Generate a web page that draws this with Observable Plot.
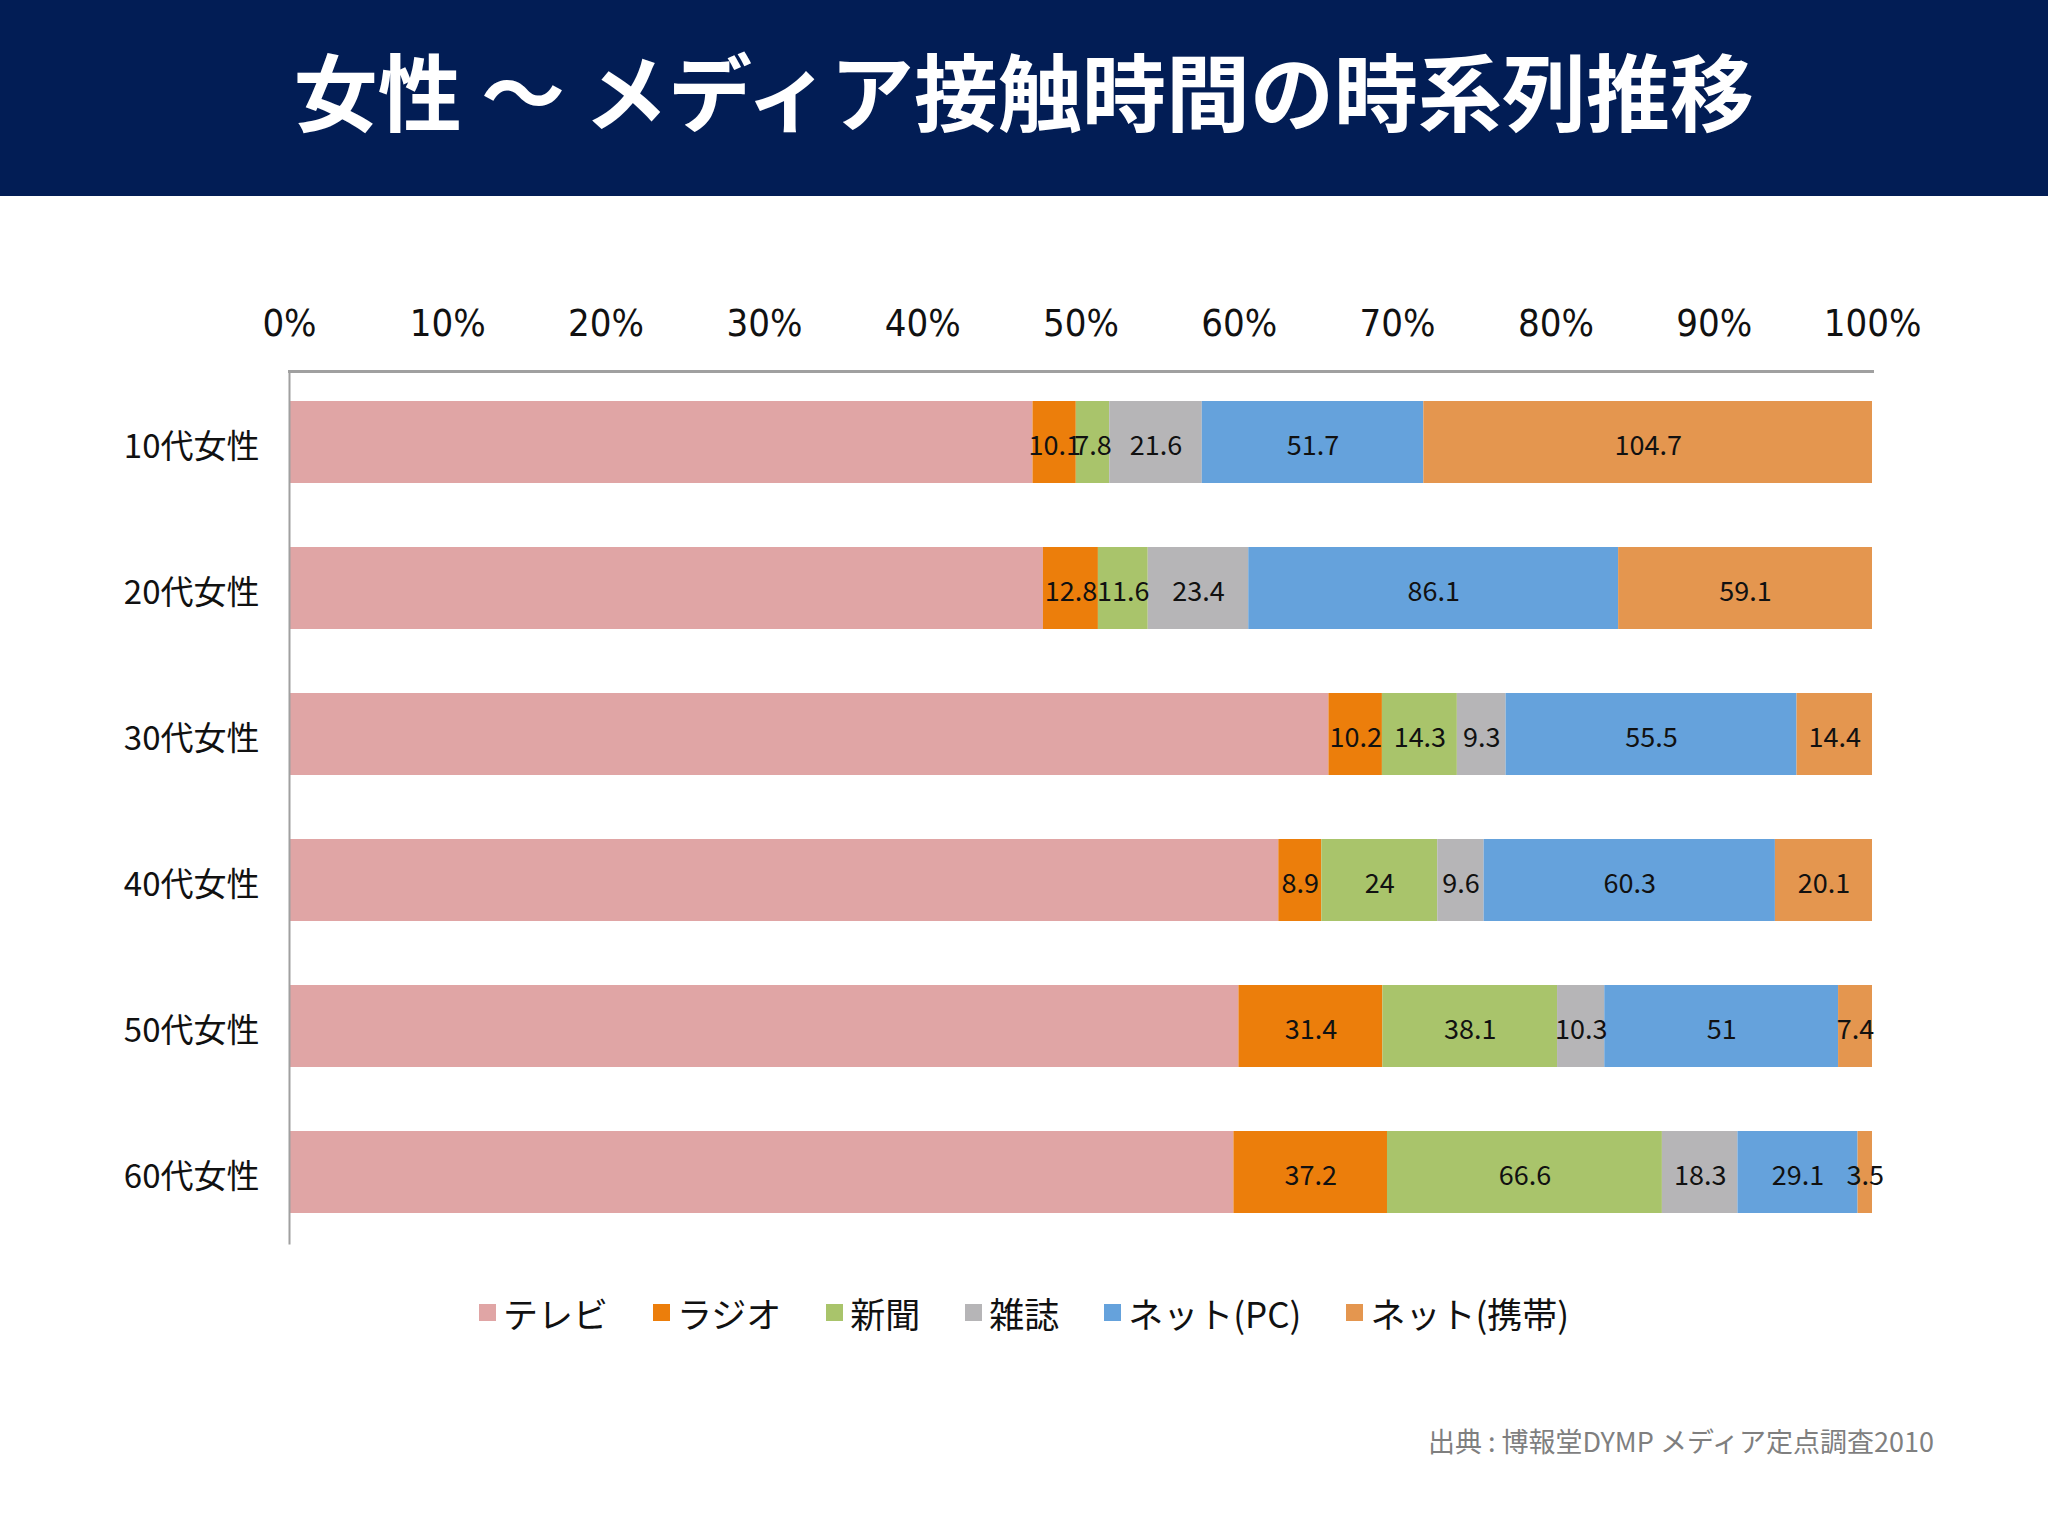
<!DOCTYPE html>
<html><head><meta charset="utf-8">
<script src="https://cdn.jsdelivr.net/npm/d3@7"></script>
<script src="https://cdn.jsdelivr.net/npm/@observablehq/plot@0.6"></script>
<style>
body{margin:0;background:#fff;}
#page{position:relative;width:2048px;height:1536px;overflow:hidden;background:#fff;font-family:"Noto Sans CJK JP","Noto Sans",sans-serif;}
#title{position:absolute;left:0;top:0;width:2048px;height:178px;padding-bottom:18px;background:#021d55;color:#fff;display:flex;align-items:center;justify-content:center;font-size:84px;font-weight:700;line-height:1;}
#chart{position:absolute;left:0;top:196px;}
#legend{position:absolute;left:0;top:1287px;width:2048px;display:flex;justify-content:center;}
#caption{position:absolute;right:114px;top:1423px;font-size:27px;color:#7f7f7f;line-height:36px;white-space:nowrap;}
.lg-swatch{margin-right:45px !important;}
.lg-swatch:last-child{margin-right:0 !important;}
.lg-swatch > svg{margin-right:7px !important;}
.lg-swatches{margin-bottom:0 !important;}
</style></head>
<body>
<div id="page">
  <div id="title">女性 ～ メディア接触時間の時系列推移</div>
  <div id="chart"></div>
  <div id="legend"></div>
  <div id="caption">出典 : 博報堂DYMP メディア定点調査2010</div>
</div>
<script>
const ages = ["10代女性","20代女性","30代女性","40代女性","50代女性","60代女性"];
const media = ["テレビ","ラジオ","新聞","雑誌","ネット(PC)","ネット(携帯)"];
const colors = ["#e0a5a5","#ec7e0b","#a9c46b","#b6b5b7","#65a2dc","#e4964f"];
const tv        = [173.5, 175.5, 198.3, 204.8, 207.1, 228.8];
const radio     = [10.1, 12.8, 10.2, 8.9, 31.4, 37.2];
const newspaper = [7.8, 11.6, 14.3, 24, 38.1, 66.6];
const magazine  = [21.6, 23.4, 9.3, 9.6, 10.3, 18.3];
const netPC     = [51.7, 86.1, 55.5, 60.3, 51, 29.1];
const netMobile = [104.7, 59.1, 14.4, 20.1, 7.4, 3.5];
const xTicks = [0, 0.1, 0.2, 0.3, 0.4, 0.5, 0.6, 0.7, 0.8, 0.9, 1];

const series = [tv, radio, newspaper, magazine, netPC, netMobile];
const rows = [];
media.forEach((m, i) => {
  ages.forEach((a, j) => {
    rows.push({age: a, media: m, value: series[i][j], label: i === 0 ? null : String(series[i][j])});
  });
});

const font = '"Noto Sans CJK JP","Noto Sans",sans-serif';
const plot = Plot.plot({
  width: 2048, height: 1064,
  marginLeft: 289, marginRight: 176, marginTop: 175, marginBottom: 17,
  style: {fontFamily: font, background: "transparent", color: "#111"},
  x: {domain: [0, 1]},
  y: {domain: ages, paddingInner: 0.435, paddingOuter: 0.2},
  color: {domain: media, range: colors},
  marks: [
    Plot.barX(rows, Plot.stackX({offset: "normalize", x: "value", y: "age", z: "media", fill: "media"})),
    Plot.text(rows, Plot.stackX({offset: "normalize", x: "value", y: "age", z: "media", text: "label", fontSize: 27, dy: 4, fill: "#111"})),
    Plot.axisX(xTicks, {anchor: "top", tickSize: 0, tickPadding: 36, tickFormat: d3.format(".0%"), fontSize: 38,
      fontFamily: '"Liberation Sans Narrow","DejaVu Sans Condensed","Liberation Sans",sans-serif', fill: "#111", label: null}),
    Plot.axisY({anchor: "left", tickSize: 0, tickPadding: 30, fontSize: 33, dy: 5, fill: "#111", label: null}),
    Plot.frame({anchor: "top", stroke: "#a0a0a0", strokeWidth: 3}),
    Plot.frame({anchor: "left", stroke: "#a0a0a0", strokeWidth: 2})
  ]
});
document.getElementById("chart").appendChild(plot);

const leg = plot.legend("color", {swatchSize: 17, className: "lg", style: {fontSize: "35px", fontFamily: font, color: "#111"}});
document.getElementById("legend").appendChild(leg);
</script>
</body></html>
